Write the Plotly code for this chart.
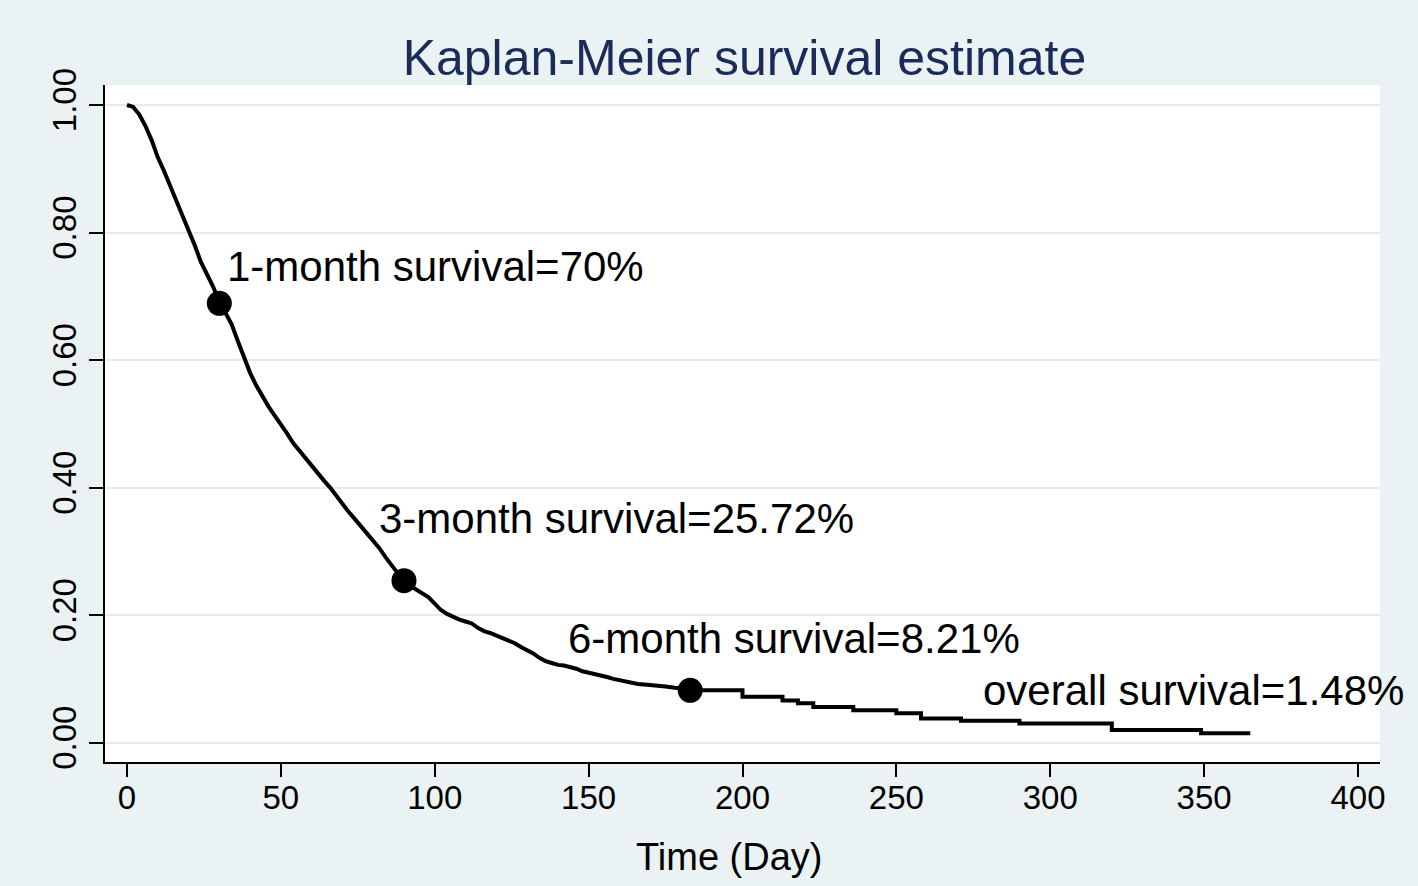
import plotly.graph_objects as go

# Kaplan-Meier curve (time in days, survival probability)
# dense early part (tiny steps, drawn as a continuous line)
km_time = [0, 2, 4, 6, 8, 10, 12, 14, 16, 18, 20, 22, 24, 26, 28, 30, 32, 34, 36, 38,
           40, 42, 44, 46, 48, 50, 52, 54, 56, 58, 60, 62, 64, 66, 68, 70, 72, 74, 76, 78,
           80, 82, 84, 86, 88, 90, 92, 94, 96, 98, 100, 102, 104, 106, 108, 110, 112, 114,
           116, 118, 120, 122, 124, 126, 128, 130, 132, 134, 136, 138, 140, 142, 144, 146,
           148, 150, 152, 154, 156, 158, 160, 163, 166, 169, 172, 175, 178, 181, 184]
km_surv = [1.000, 0.997, 0.985, 0.967, 0.945, 0.918, 0.897, 0.874, 0.850, 0.826, 0.802,
           0.780, 0.754, 0.735, 0.715, 0.692, 0.675, 0.656, 0.630, 0.603, 0.580, 0.560,
           0.542, 0.527, 0.513, 0.500, 0.485, 0.470, 0.458, 0.445, 0.433, 0.422, 0.411,
           0.400, 0.387, 0.374, 0.362, 0.351, 0.340, 0.329, 0.318, 0.305, 0.291, 0.278,
           0.265, 0.253, 0.246, 0.240, 0.235, 0.228, 0.218, 0.208, 0.202, 0.197, 0.193,
           0.190, 0.187, 0.180, 0.175, 0.172, 0.168, 0.163, 0.160, 0.156, 0.150, 0.145,
           0.140, 0.133, 0.128, 0.125, 0.122, 0.121, 0.119, 0.116, 0.112, 0.110, 0.108,
           0.106, 0.103, 0.100, 0.098, 0.095, 0.092, 0.091, 0.090, 0.088, 0.086, 0.085,
           0.0821]
# sparse tail part (visible steps)
tail_time = [184, 200, 213, 218, 223, 236, 250, 258, 271, 290, 320, 349, 365]
tail_surv = [0.0821, 0.072, 0.066, 0.062, 0.056, 0.051, 0.046, 0.038, 0.0345, 0.030,
             0.020, 0.0148, 0.0148]

# highlighted survival points
mark_time = [30, 90, 183]
mark_surv = [0.689, 0.254, 0.0821]

# annotation labels and their anchor points (data coords, left-aligned)
label_text = ["1-month survival=70%", "3-month survival=25.72%",
              "6-month survival=8.21%", "overall survival=1.48%"]
label_x = [32.0, 81.2, 142.6, 277.4]
label_y = [0.7475, 0.352, 0.164, 0.0826]

y_ticks = [0.0, 0.2, 0.4, 0.6, 0.8, 1.0]
x_ticks = [0, 50, 100, 150, 200, 250, 300, 350, 400]

FONT = "Liberation Sans, Arial, Helvetica, sans-serif"

fig = go.Figure()
fig.add_trace(go.Scatter(
    x=km_time, y=km_surv, mode="lines", line=dict(color="black", width=4, shape="linear"),
    showlegend=False, hoverinfo="x+y"))
fig.add_trace(go.Scatter(
    x=tail_time, y=tail_surv, mode="lines", line=dict(color="black", width=4, shape="hv"),
    showlegend=False, hoverinfo="x+y"))
fig.add_trace(go.Scatter(
    x=mark_time, y=mark_surv, mode="markers",
    marker=dict(color="black", size=25, symbol="circle"), showlegend=False))

for t, xx, yy in zip(label_text, label_x, label_y):
    fig.add_annotation(x=xx, y=yy, xref="x", yref="y", text=t, showarrow=False,
                       xanchor="left", yanchor="middle",
                       font=dict(family=FONT, size=42, color="black"))

# x-axis title (placed as text under the axis, slightly left of centre as in the original)
fig.add_annotation(x=(729 - 105) / 1275, y=-(857 - 762) / 677, xref="paper", yref="paper",
                   text="Time (Day)", showarrow=False, xanchor="center", yanchor="middle",
                   font=dict(family=FONT, size=38, color="black"))

fig.update_layout(
    width=1418, height=886,
    paper_bgcolor="#EAF2F3", plot_bgcolor="white",
    margin=dict(l=105, r=38, t=85, b=124),
    title=dict(text="Kaplan-Meier survival estimate", x=0.525, xanchor="center",
               y=1 - 57 / 886, yanchor="middle", yref="container",
               font=dict(family=FONT, size=50, color="#1B2C59")),
    font=dict(family=FONT, color="black"),
)
fig.update_xaxes(
    range=[-7.15, 407.15], tickvals=x_ticks, showgrid=False, zeroline=False,
    showline=True, linecolor="black", linewidth=2,
    ticks="outside", ticklen=13, tickwidth=2, tickcolor="black",
    ticklabelstandoff=-8,
    tickfont=dict(family=FONT, size=33, color="black"),
)
fig.update_yaxes(
    range=[-0.0303, 1.0314], tickvals=y_ticks, tickformat=".2f", tickangle=-90,
    showgrid=True, gridcolor="#E3ECEE", gridwidth=2, zeroline=False,
    showline=True, linecolor="black", linewidth=2,
    ticks="outside", ticklen=14, tickwidth=2, tickcolor="black",
    tickfont=dict(family=FONT, size=33, color="black"),
)

fig.write_html("out.html", config={"displayModeBar": False},
               post_script="document.body.style.margin='0';document.body.style.overflow='hidden';")
